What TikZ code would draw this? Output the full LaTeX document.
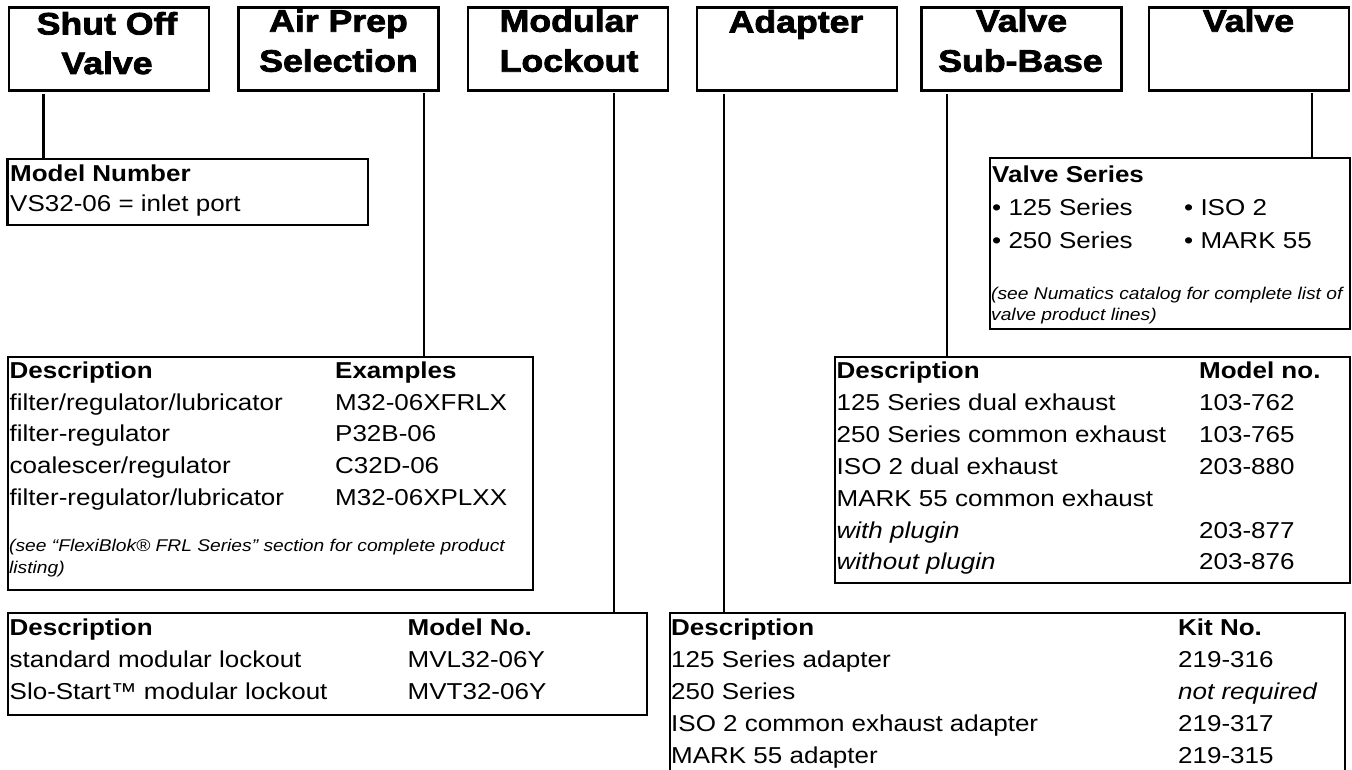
\documentclass[tikz,border=0pt]{standalone}
\usepackage{fontspec}
\newfontfamily\bodyfont{Liberation Sans}[FakeStretch=1.13]
\newfontfamily\titlefont{Liberation Sans}[FakeStretch=1.15, BoldFeatures={FakeBold=2.5}]
\tikzset{
  topbox/.style={draw, line width=2.2pt, minimum width=200pt, minimum height=83pt, anchor=north west, inner sep=0pt, outer sep=0pt},
  infobox/.style={draw, line width=2.2pt, anchor=north west, inner sep=0pt, outer sep=0pt},
  ttl/.style={font=\titlefont\bfseries\fontsize{31}{40}\selectfont, anchor=base, inner sep=0pt},
  hd/.style={font=\bodyfont\bfseries\fontsize{23}{31}\selectfont, anchor=base west, inner sep=0pt},
  bd/.style={font=\bodyfont\fontsize{23}{31}\selectfont, anchor=base west, inner sep=0pt},
  bdit/.style={font=\bodyfont\itshape\fontsize{23}{31}\selectfont, anchor=base west, inner sep=0pt},
  note/.style={font=\bodyfont\itshape\fontsize{17}{21}\selectfont, anchor=base west, inner sep=0pt},
  conn/.style={line width=2.2pt},
}
\begin{document}
\begin{tikzpicture}[x=1pt,y=-1pt]
\useasboundingbox (0,0) rectangle (1352,770);
\clip (0,0) rectangle (1352,770);
% top boxes
\node[topbox] (b1) at (9,7.5) {};
\node[topbox] (b2) at (238.5,7.5) {};
\node[topbox] (b3) at (468,7.5) {};
\node[topbox] (b4) at (697,7.5) {};
\node[topbox] (b5) at (921.5,7.5) {};
\node[topbox] (b6) at (1149,7.5) {};
\node[ttl] (b1a) at (107,34.5) {Shut Off};
\node[ttl] (b1b) at (107,74) {Valve};
\node[ttl] (b2a) at (338.5,31.7) {Air Prep};
\node[ttl] (b2b) at (338.5,71.7) {Selection};
\node[ttl] (b3a) at (569,31.7) {Modular};
\node[ttl] (b3b) at (569,71.7) {Lockout};
\node[ttl] (b4a) at (796,32.5) {Adapter};
\node[ttl] (b5a) at (1021.5,31.7) {Valve};
\node[ttl] (b5b) at (1020.5,71.7) {Sub-Base};
\node[ttl] (b6a) at (1248.5,31.7) {Valve};
% info boxes
\node[infobox, minimum width=360.5pt, minimum height=66pt] (mn) at (7.5,159) {};
\node[infobox, minimum width=360pt, minimum height=171pt] (vs) at (990,158) {};
\node[infobox, minimum width=524.6pt, minimum height=233pt] (ap) at (8,357) {};
\node[infobox, minimum width=515pt, minimum height=226pt] (sb) at (835,357) {};
\node[infobox, minimum width=639pt, minimum height=102pt] (ml) at (8,613) {};
\node[infobox, minimum width=675.3pt, minimum height=200pt] (ad) at (669.7,613) {};
% connectors
\coordinate (c1) at (43.5,94.5);
\coordinate (c2) at (424,93.5);
\coordinate (c3) at (614,93.5);
\coordinate (c4) at (724,94.5);
\coordinate (c5) at (947,94.5);
\coordinate (c6) at (1312,93.5);
\draw[conn] (c1) -- (c1 |- mn.north);
\draw[conn] (c2) -- (c2 |- ap.north);
\draw[conn] (c3) -- (c3 |- ml.north);
\draw[conn] (c4) -- (c4 |- ad.north);
\draw[conn] (c5) -- (c5 |- sb.north);
\draw[conn] (c6) -- (c6 |- vs.north);
% model number
\node[hd] (mn1) at (10,181.7) {Model Number};
\node[bd] (mn2) at (10,211.7) {VS32-06 = inlet port};
% valve series
\node[hd] (vs1) at (992,183) {Valve Series};
\node[bd] (vs2) at (992,215) {• 125 Series};
\node[bd] (vs3) at (1184,215) {• ISO 2};
\node[bd] (vs4) at (992,248) {• 250 Series};
\node[bd] (vs5) at (1184,248) {• MARK 55};
\node[note] (vs6) at (991,299) {(see Numatics catalog for complete list of};
\node[note] (vs7) at (991,320) {valve product lines)};
% air prep
\node[hd] (ap1) at (9.5,378) {Description};
\node[hd] (ap2) at (335,378) {Examples};
\node[bd] (ap3) at (9.5,410) {filter/regulator/lubricator};
\node[bd] (ap4) at (335,410) {M32-06XFRLX};
\node[bd] (ap5) at (9.5,441.7) {filter-regulator};
\node[bd] (ap6) at (335,441.7) {P32B-06};
\node[bd] (ap7) at (9.5,473.4) {coalescer/regulator};
\node[bd] (ap8) at (335,473.4) {C32D-06};
\node[bd] (ap9) at (9.5,505.1) {filter-regulator/lubricator};
\node[bd] (ap10) at (335,505.1) {M32-06XPLXX};
\node[note] (ap11) at (9,551.7) {(see “FlexiBlok® FRL Series” section for complete product};
\node[note] (ap12) at (9,573) {listing)};
% sub-base
\node[hd] (sb1) at (836.5,378.5) {Description};
\node[hd] (sb2) at (1199,378.5) {Model no.};
\node[bd] (sb3) at (836.5,410.4) {125 Series dual exhaust};
\node[bd] (sb4) at (1199,410.4) {103-762};
\node[bd] (sb5) at (836.5,442.3) {250 Series common exhaust};
\node[bd] (sb6) at (1199,442.3) {103-765};
\node[bd] (sb7) at (836.5,474.2) {ISO 2 dual exhaust};
\node[bd] (sb8) at (1199,474.2) {203-880};
\node[bd] (sb9) at (836.5,506.1) {MARK 55 common exhaust};
\node[bdit] (sb10) at (836.5,538) {with plugin};
\node[bd] (sb11) at (1199,538) {203-877};
\node[bdit] (sb12) at (836.5,569.9) {without plugin};
\node[bd] (sb13) at (1199,569.9) {203-876};
% modular lockout
\node[hd] (ml1) at (9.5,635) {Description};
\node[hd] (ml2) at (407.5,635) {Model No.};
\node[bd] (ml3) at (9.5,667.5) {standard modular lockout};
\node[bd] (ml4) at (407.5,667.5) {MVL32-06Y};
\node[bd] (ml5) at (9.5,699.5) {Slo-Start™ modular lockout};
\node[bd] (ml6) at (407.5,699.5) {MVT32-06Y};
% adapter
\node[hd] (ad1) at (671,635) {Description};
\node[hd] (ad2) at (1178,635) {Kit No.};
\node[bd] (ad3) at (671,667.5) {125 Series adapter};
\node[bd] (ad4) at (1178,667.5) {219-316};
\node[bd] (ad5) at (671,699.5) {250 Series};
\node[bdit] (ad6) at (1178,699.5) {not required};
\node[bd] (ad7) at (671,731.5) {ISO 2 common exhaust adapter};
\node[bd] (ad8) at (1178,731.5) {219-317};
\node[bd] (ad9) at (671,763) {MARK 55 adapter};
\node[bd] (ad10) at (1178,763) {219-315};
\end{tikzpicture}
\end{document}
